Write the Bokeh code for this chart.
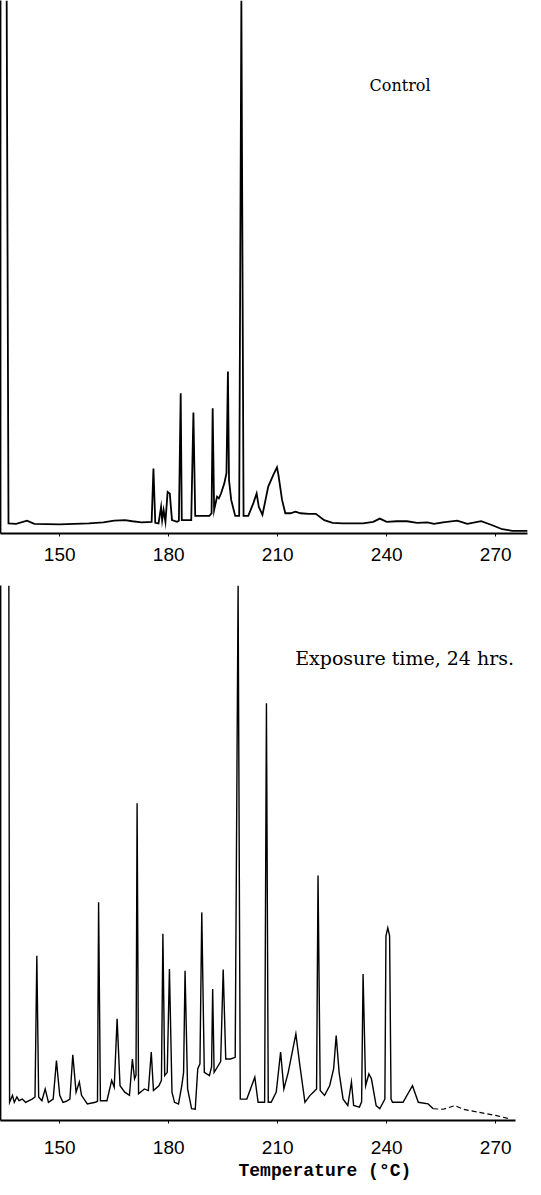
from bokeh.plotting import figure
from bokeh.layouts import column
from bokeh.models import FixedTicker, Range1d, Label, Title
from bokeh.embed import file_html
from bokeh.resources import INLINE

# ---------------- data ----------------
tick_values = [150, 180, 210, 240, 270]
tick_labels = ["150", "180", "210", "240", "270"]
x_title = "Temperature (°C)"

# Control chromatogram: temperature (deg C) vs detector response (% of full scale)
control_temp = [135.4, 135.9, 138.0, 141.0, 143.0, 150.0, 158.0, 162.0, 165.0, 168.0, 170.0, 172.5,
                175.3, 175.8, 176.3, 177.2, 177.9, 178.2, 178.6, 179.1, 179.7, 180.3, 180.9,
                182.3, 182.8, 183.3, 183.6, 186.2, 186.8, 187.3, 188.8, 191.2, 191.8, 192.1, 192.5,
                193.3, 193.8, 194.4, 195.3, 195.9, 196.3, 196.6, 197.2, 198.3, 199.4, 200.0, 200.6,
                201.9, 203.3, 204.2, 204.8, 205.8, 207.4, 208.8, 209.8, 210.2, 211.2, 212.1, 213.5,
                214.9, 216.3, 218.6, 220.5, 222.8, 225.1, 227.9, 233.5, 236.3, 238.1, 240.0, 242.8,
                245.6, 248.4, 251.2, 253.0, 255.5, 259.4, 262.2, 266.0, 268.9, 271.8, 274.6, 278.8]
control_signal = [100.0, 1.9, 1.8, 2.4, 1.8, 1.7, 1.9, 2.1, 2.4, 2.5, 2.3, 2.1,
                  2.2, 12.2, 2.0, 1.9, 5.0, 2.5, 4.4, 2.2, 7.8, 7.5, 2.5,
                  2.2, 2.4, 26.3, 2.5, 2.5, 22.7, 3.3, 3.3, 3.3, 3.8, 23.5, 4.4,
                  6.9, 6.6, 7.5, 9.4, 11.3, 30.4, 10.0, 6.3, 3.3, 3.3, 100.0, 3.3,
                  3.3, 5.7, 7.5, 5.0, 3.5, 8.8, 11.0, 12.4, 11.0, 6.3, 3.8, 3.8,
                  4.1, 3.8, 3.7, 3.7, 2.5, 2.0, 1.9, 1.9, 2.2, 2.8, 2.2, 2.3,
                  2.3, 2.0, 2.1, 1.8, 2.1, 2.4, 1.8, 2.3, 1.6, 0.8, 0.5, 0.5]

# Exposure time 24 hrs chromatogram
exposed_temp = [136.0, 136.2, 137.0, 137.5, 138.2, 138.8, 139.7, 140.6, 142.4, 143.2, 143.7, 144.2,
                145.1, 146.0, 146.9, 148.2, 149.1, 150.0, 150.9, 151.8, 152.8, 153.6, 154.5, 155.4,
                156.0, 157.6, 159.8, 160.4, 160.7, 161.2, 163.0, 164.3, 165.0, 165.8, 166.6, 167.9,
                169.2, 170.0, 170.6, 171.0, 171.3, 171.7, 173.3, 174.4, 175.2, 175.8, 177.3, 178.0,
                178.4, 178.9, 179.6, 180.2, 180.9, 181.6, 182.7, 183.6, 184.1, 184.5, 185.2, 186.3,
                187.3, 188.0, 188.6, 189.1, 189.8, 191.2, 191.8, 192.1, 192.5, 193.4, 194.3, 195.0,
                195.7, 197.0, 198.3, 199.1, 199.7, 201.5, 203.7, 204.6, 206.4, 206.9, 207.4, 208.2,
                209.6, 210.8, 211.7, 212.9, 215.0, 216.1, 217.5, 218.9, 219.8, 220.7, 221.1, 221.7,
                222.9, 224.3, 225.4, 226.1, 226.9, 228.0, 229.3, 230.3, 230.9, 232.5, 233.1, 233.5,
                234.2, 235.1, 235.8, 237.1, 238.1, 239.5, 239.8, 240.3, 240.8, 241.2, 241.6, 244.5,
                247.1, 248.7, 251.4, 252.8]
exposed_signal = [100.0, 3.4, 4.7, 3.4, 4.4, 3.7, 4.0, 3.4, 4.0, 4.4, 30.8, 4.4,
                  3.7, 5.9, 3.4, 4.0, 11.2, 4.7, 3.4, 3.6, 4.0, 12.3, 5.3, 7.2,
                  4.7, 3.1, 3.4, 3.6, 40.8, 3.7, 3.7, 7.5, 6.2, 19.0, 6.5, 5.3,
                  4.7, 11.5, 7.8, 8.5, 59.3, 5.0, 5.9, 5.6, 12.8, 5.6, 6.5, 7.5,
                  34.9, 8.4, 9.0, 28.3, 5.3, 3.4, 3.1, 6.5, 9.0, 28.0, 5.9, 2.2,
                  2.1, 9.7, 10.6, 38.9, 9.0, 8.4, 10.0, 24.6, 9.0, 10.0, 11.0, 28.2,
                  11.5, 11.5, 11.8, 100.0, 4.0, 4.0, 8.1, 3.4, 3.4, 78.0, 3.4, 3.4,
                  5.3, 12.8, 5.9, 9.0, 16.2, 10.3, 3.4, 4.7, 5.3, 5.9, 45.8, 5.6,
                  4.7, 6.5, 9.7, 15.9, 9.0, 4.0, 2.8, 7.2, 2.8, 2.5, 3.5, 27.4,
                  6.5, 8.7, 7.8, 2.8, 2.2, 4.0, 34.5, 36.0, 34.5, 4.0, 3.4, 3.4,
                  6.5, 3.4, 3.1, 2.2]
exposed_tail_temp = [252.8, 255.6, 258.8, 261.1, 264.8, 270.3, 273.9]
exposed_tail_signal = [2.2, 2.1, 2.8, 2.1, 1.6, 0.9, 0.3]

X_START = 133.7
PX_PER_UNIT = 3.633


def make_panel(frame_w, frame_h, bottom_border, label_standoff, right_border):
    x_end = X_START + frame_w / PX_PER_UNIT
    p = figure(frame_width=frame_w, frame_height=frame_h,
               x_range=Range1d(X_START, x_end), y_range=Range1d(0, 100),
               output_backend="svg", toolbar_location=None,
               min_border_left=0, min_border_right=right_border, min_border_top=0,
               min_border_bottom=bottom_border)
    p.outline_line_color = None
    p.grid.visible = False
    p.background_fill_color = "white"
    p.border_fill_color = "white"

    xa = p.xaxis[0]
    xa.ticker = FixedTicker(ticks=tick_values)
    xa.major_label_overrides = {v: s for v, s in zip(tick_values, tick_labels)}
    xa.major_label_text_font = "Liberation Sans"
    xa.major_label_text_font_size = "19px"
    xa.major_label_text_color = "black"
    xa.major_label_standoff = label_standoff
    xa.major_tick_out = 3
    xa.major_tick_in = 0
    xa.minor_tick_out = 0
    xa.minor_tick_in = 0
    xa.axis_line_width = 2
    xa.axis_line_color = "black"
    xa.major_tick_line_color = "black"

    ya = p.yaxis[0]
    ya.major_label_text_font_size = "0px"
    ya.major_label_standoff = 0
    ya.major_tick_in = 0
    ya.major_tick_out = 0
    ya.minor_tick_in = 0
    ya.minor_tick_out = 0
    ya.axis_line_width = 1.8
    ya.axis_line_color = "black"
    return p


top = make_panel(527, 533, 52, 11, 3)
top.line(control_temp, control_signal, line_color="black", line_width=1.8, line_join="miter")
top.add_layout(Label(x=235.3, y=84.0, text="Control", text_font="DejaVu Serif",
                     text_font_size="16px", text_baseline="middle", text_color="black"))

bot = make_panel(515, 535, 62, 17, 15)
bot.line(exposed_temp, exposed_signal, line_color="black", line_width=1.4, line_join="miter")
bot.line(exposed_tail_temp, exposed_tail_signal, line_color="black", line_width=1.2, line_dash="5 3")
bot.add_layout(Label(x=214.8, y=86.5, text="Exposure time, 24 hrs.", text_font="DejaVu Serif",
                     text_font_size="19px", text_baseline="middle", text_color="black"))
bot.add_layout(Title(text=x_title, align="left", offset=238, standoff=4,
                     text_font="Liberation Mono", text_font_size="18px",
                     text_font_style="bold", text_color="black"), "below")

layout = column(top, bot, spacing=0)
open("out.html", "w").write(file_html(layout, INLINE))
